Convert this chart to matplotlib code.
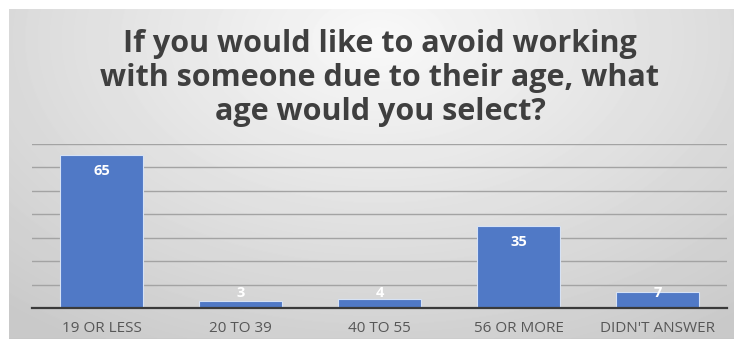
import numpy as np
import matplotlib.pyplot as plt

# survey answers per age group
categories = ["19 OR LESS", "20 TO 39", "40 TO 55", "56 OR MORE", "DIDN'T ANSWER"]
counts = [65, 3, 4, 35, 7]

title = ("If you would like to avoid working\n"
         "with someone due to their age, what\n"
         "age would you select?")

W, H = 735, 339
fig = plt.figure(figsize=(W / 100, H / 100), dpi=100)
fig.patch.set_facecolor("white")

# soft radial gradient behind the chart (light at the top centre)
bg = fig.add_axes([9 / W, 0, (W - 10) / W, (H - 9) / H])
yy, xx = np.mgrid[0:H - 9, 0:W - 10]
d = np.sqrt(((xx - 370) / 520.0) ** 2 + ((yy - 30) / 330.0) ** 2)
shade = np.clip(0.975 - 0.17 * d, 0.79, 0.975)
bg.imshow(shade, cmap="gray", vmin=0, vmax=1, aspect="auto",
          extent=[0, 1, 1, 0], interpolation="bilinear")
bg.axhline(1, color="#bdbdbd", lw=1)
bg.set_axis_off()

ax = fig.add_axes([32 / W, (H - 308) / H, 695 / W, 164.5 / H])
ax.patch.set_alpha(0)

x = np.arange(len(categories))
ax.bar(x, counts, width=0.6, color="#5079c6", edgecolor="#d6e2f5",
       linewidth=0.8, zorder=3)

ax.set_xlim(-0.5, len(categories) - 0.5)
ax.set_ylim(0, 70)
ax.set_yticks(np.arange(10, 71, 10))
ax.yaxis.grid(True, color="#a3a3a3", lw=1)
ax.set_axisbelow(True)
ax.tick_params(axis="y", left=False, labelleft=False)
ax.tick_params(axis="x", bottom=False, pad=6, labelsize=11,
               labelcolor="#575757")
ax.set_xticks(x)
ax.set_xticklabels(categories, family="Open Sans")
for side in ["top", "right", "left"]:
    ax.spines[side].set_visible(False)
ax.spines["bottom"].set_color("#3a3a3a")
ax.spines["bottom"].set_linewidth(1.6)
ax.spines["bottom"].set_zorder(4)

# value labels sit just inside the bar top, but never below the base area
for xi, v in zip(x, counts):
    ax.text(xi, max(v - 6.8, 6.4), str(v), ha="center", va="center",
            color="white", fontsize=10.5, fontweight="bold",
            family="Open Sans", zorder=5)

fig.text(0.517, 1 - 78 / H, title, ha="center", va="center",
         fontsize=22, fontweight="bold", color="#3f3f3f",
         family="Open Sans", linespacing=1.17)

fig.savefig("out.png", dpi=100)
